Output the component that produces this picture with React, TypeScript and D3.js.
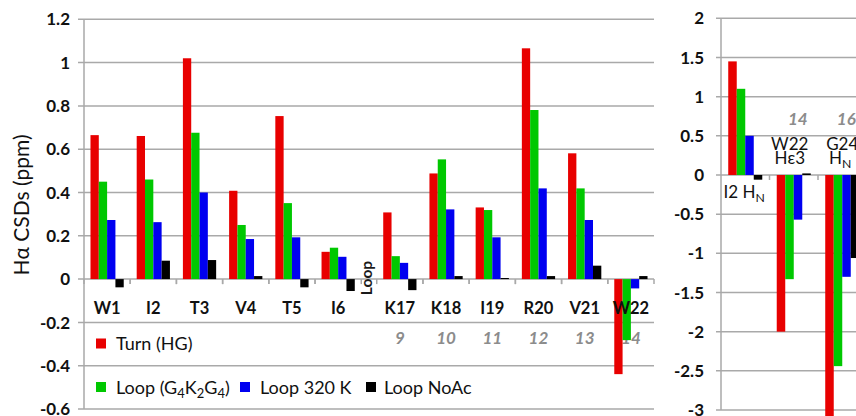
import React from "react";
import * as d3 from "d3";

// Hα chemical shift deviations per residue
const categories = ["W1", "I2", "T3", "V4", "T5", "I6", "K17", "K18", "I19", "R20", "V21", "W22"];
const turnHG = [0.665, 0.661, 1.02, 0.408, 0.753, 0.126, 0.308, 0.488, 0.331, 1.066, 0.581, -0.439];
const loopG4K2G4 = [0.45, 0.46, 0.676, 0.25, 0.351, 0.145, 0.106, 0.553, 0.319, 0.781, 0.419, -0.282];
const loop320K = [0.273, 0.263, 0.4, 0.185, 0.193, 0.103, 0.075, 0.322, 0.193, 0.419, 0.273, -0.043];
const loopNoAc = [-0.038, 0.085, 0.088, 0.014, -0.038, -0.055, -0.051, 0.014, 0.005, 0.014, 0.062, 0.014];
const loopNumbering = ["", "", "", "", "", "", "9", "10", "11", "12", "13", "14"];
const leftTicks = [-0.6, -0.4, -0.2, 0, 0.2, 0.4, 0.6, 0.8, 1, 1.2];

// Amide / indole proton deviations
const amideCategories = ["I2 HN", "W22 Hε3", "G24 HN"];
const amideTurnHG = [1.45, -2.0, -3.2];
const amideLoopG4K2G4 = [1.1, -1.33, -2.44];
const amideLoop320K = [0.5, -0.57, -1.3];
const amideLoopNoAc = [-0.06, 0.02, -1.06];
const amideNumbering = ["", "14", "16"];
const rightTicks = [-3, -2.5, -2, -1.5, -1, -0.5, 0, 0.5, 1, 1.5, 2];

const seriesKeys = ["Turn (HG)", "Loop (G4K2G4)", "Loop 320 K", "Loop NoAc"];
const seriesColors = ["#e80000", "#00c800", "#0000f0", "#000000"];

const FONT = "Lato, 'Open Sans', sans-serif";
const GRID = "#a9a9a9";

const W = 856;
const H = 416;

// left panel geometry
const L = { x0: 84, x1: 654, yTop: 19.3, yBot: 409 };
const LOOP_GAP = 0.335; // extra spacing (in slot units) where the loop is excised
const R = { x0: 721, slot: 48.5, yTop: 18.3, yBot: 410 };

function fmt(v: number) {
  return String(+v.toFixed(1));
}

function Sub({ children }: { children: React.ReactNode }) {
  return (
    <tspan dy={4} fontSize="0.72em">
      {children}
    </tspan>
  );
}

export default function App() {
  const leftSeries = [turnHG, loopG4K2G4, loop320K, loopNoAc];
  const rightSeries = [amideTurnHG, amideLoopG4K2G4, amideLoop320K, amideLoopNoAc];

  // left scales
  const nSlots = categories.length + LOOP_GAP;
  const xSlot = d3.scaleLinear().domain([0, nSlots]).range([L.x0, L.x1]);
  const slotW = xSlot(1) - xSlot(0);
  const slotPos = (i: number) => i + (i >= 6 ? LOOP_GAP : 0);
  const xInner = d3
    .scaleBand<string>()
    .domain(seriesKeys)
    .range([0, slotW])
    .paddingOuter(0.78)
    .paddingInner(0);
  const yL = d3.scaleLinear().domain([-0.6, 1.2]).range([L.yBot, L.yTop]);

  // right scales
  const xR = d3
    .scaleLinear()
    .domain([0, 1])
    .range([R.x0, R.x0 + R.slot]);
  const xInnerR = d3
    .scaleBand<string>()
    .domain(seriesKeys)
    .range([0, R.slot])
    .paddingOuter(0.85)
    .paddingInner(0);
  const yR = d3.scaleLinear().domain([-3, 2]).range([R.yBot, R.yTop]);

  const leftBoundaries: number[] = [];
  categories.forEach((_, i) => {
    leftBoundaries.push(xSlot(slotPos(i)));
    leftBoundaries.push(xSlot(slotPos(i) + 1));
  });

  return (
    <svg
      width={W}
      height={H}
      style={{ position: "absolute", left: 0, top: 0, background: "#fff" }}
      fontFamily={FONT}
    >
      <rect x={0} y={0} width={W} height={H} fill="#fff" />

      {/* ---------- left panel ---------- */}
      <g>
        {leftTicks.map((t) => (
          <g key={t}>
            <line
              x1={L.x0 - 6}
              x2={L.x1}
              y1={yL(t)}
              y2={yL(t)}
              stroke={GRID}
              strokeWidth={1.5}
            />
            <text
              x={70}
              y={yL(t)}
              dy="0.36em"
              textAnchor="end"
              fontWeight={700}
              fontSize={17}
              fill="#111"
            >
              {fmt(t)}
            </text>
          </g>
        ))}
        <line x1={L.x0} x2={L.x0} y1={L.yTop} y2={L.yBot} stroke={GRID} strokeWidth={1.5} />
        {leftBoundaries.map((bx, i) => (
          <line
            key={i}
            x1={bx}
            x2={bx}
            y1={yL(0)}
            y2={yL(0) + 5}
            stroke={GRID}
            strokeWidth={1.5}
          />
        ))}

        <text
          transform={`translate(29,205) rotate(-90)`}
          textAnchor="middle"
          fontSize={21}
          fill="#111"
        >
          Hα CSDs (ppm)
        </text>

        {/* loop numbering, drawn beneath the bars */}
        {categories.map((c, i) =>
          loopNumbering[i] ? (
            <text
              key={c}
              x={xSlot(slotPos(i) + 0.5)}
              y={344}
              textAnchor="middle"
              fontSize={17}
              fontStyle="italic"
              fontWeight={700}
              fill="#8c8c8c"
            >
              {loopNumbering[i]}
            </text>
          ) : null
        )}

        {categories.map((c, i) => (
          <g key={c} transform={`translate(${xSlot(slotPos(i))},0)`}>
            {leftSeries.map((vals, s) => {
              const v = vals[i];
              return (
                <rect
                  key={s}
                  x={xInner(seriesKeys[s])}
                  width={xInner.bandwidth()}
                  y={Math.min(yL(v), yL(0))}
                  height={Math.abs(yL(v) - yL(0))}
                  fill={seriesColors[s]}
                />
              );
            })}
          </g>
        ))}

        {categories.map((c, i) => (
          <text
            key={c}
            x={xSlot(slotPos(i) + 0.5)}
            y={314}
            textAnchor="middle"
            fontWeight={700}
            fontSize={16.5}
            fill="#111"
          >
            {c}
          </text>
        ))}

        <text
          transform={`translate(${xSlot(6 + LOOP_GAP / 2) - 3},${278}) rotate(-90)`}
          textAnchor="middle"
          fontWeight={700}
          fontSize={15.5}
          fill="#1a1a1a"
          dy="0.36em"
        >
          Loop
        </text>

        {/* legend */}
        <g fontSize={18} fill="#111">
          <rect x={96} y={338.5} width={10} height={10} fill={seriesColors[0]} />
          <text x={116} y={350}>
            Turn (HG)
          </text>
          <rect x={96} y={382} width={10} height={10} fill={seriesColors[1]} />
          <text x={116} y={393.5}>
            Loop (G<Sub>4</Sub>
            <tspan dy={-4}>K</tspan>
            <Sub>2</Sub>
            <tspan dy={-4}>G</tspan>
            <Sub>4</Sub>
            <tspan dy={-4}>)</tspan>
          </text>
          <rect x={240} y={382} width={10} height={10} fill={seriesColors[2]} />
          <text x={260} y={393.5}>
            Loop 320 K
          </text>
          <rect x={366} y={382} width={10} height={10} fill={seriesColors[3]} />
          <text x={384} y={393.5}>
            Loop NoAc
          </text>
        </g>
      </g>

      {/* ---------- right panel ---------- */}
      <g>
        {rightTicks.map((t) => (
          <g key={t}>
            <line
              x1={R.x0 - 5}
              x2={W + 10}
              y1={yR(t)}
              y2={yR(t)}
              stroke={GRID}
              strokeWidth={1.5}
            />
            <text
              x={704}
              y={yR(t)}
              dy="0.36em"
              textAnchor="end"
              fontWeight={700}
              fontSize={17}
              fill="#111"
            >
              {fmt(t)}
            </text>
          </g>
        ))}
        <line x1={R.x0} x2={R.x0} y1={R.yTop} y2={R.yBot} stroke={GRID} strokeWidth={1.5} />
        {amideCategories.map((c, i) => (
          <line
            key={c}
            x1={xR(i + 1)}
            x2={xR(i + 1)}
            y1={yR(0)}
            y2={yR(0) + 5}
            stroke={GRID}
            strokeWidth={1.5}
          />
        ))}

        {amideCategories.map((c, i) =>
          amideNumbering[i] ? (
            <text
              key={c}
              x={xR(i + 0.5) + 4}
              y={125}
              textAnchor="middle"
              fontSize={17}
              fontStyle="italic"
              fontWeight={700}
              fill="#8c8c8c"
            >
              {amideNumbering[i]}
            </text>
          ) : null
        )}

        {amideCategories.map((c, i) => (
          <g key={c} transform={`translate(${xR(i)},0)`}>
            {rightSeries.map((vals, s) => {
              const v = vals[i];
              return (
                <rect
                  key={s}
                  x={xInnerR(seriesKeys[s])}
                  width={xInnerR.bandwidth()}
                  y={Math.min(yR(v), yR(0))}
                  height={Math.abs(yR(v) - yR(0))}
                  fill={seriesColors[s]}
                />
              );
            })}
          </g>
        ))}

        <g fontSize={17} fill="#111" textAnchor="middle">
          <text x={xR(0.5) - 1} y={198}>
            I2 H<Sub>N</Sub>
          </text>
          <text x={xR(1.5) - 4} y={149.5}>
            W22
          </text>
          <text x={xR(1.5) - 4} y={164}>
            Hε3
          </text>
          <text x={xR(2.5)} y={149.5}>
            G24
          </text>
          <text x={xR(2.5) - 2} y={164}>
            H<Sub>N</Sub>
          </text>
        </g>
      </g>
    </svg>
  );
}
